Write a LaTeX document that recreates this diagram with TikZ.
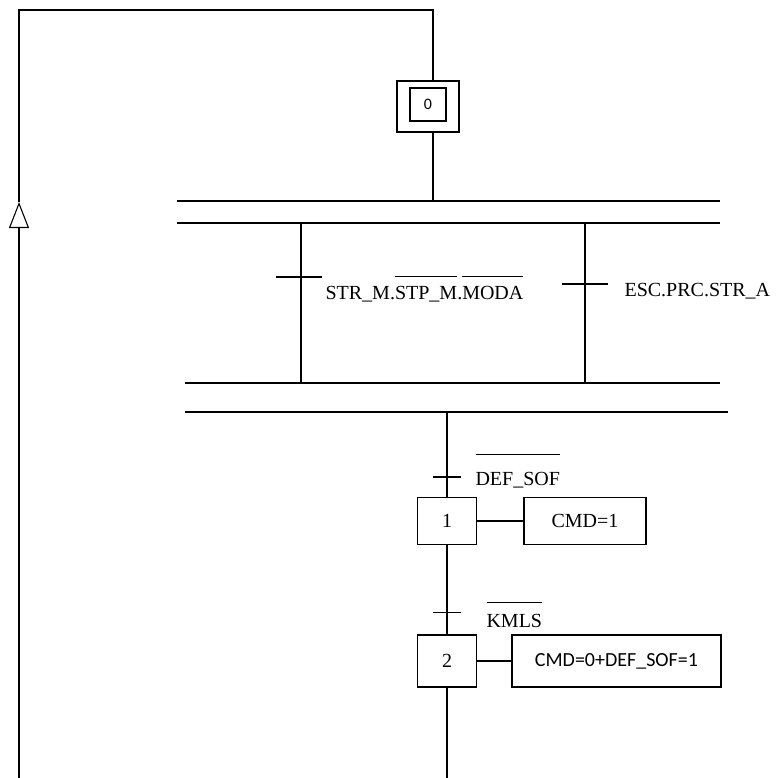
\documentclass[tikz,border=0pt]{standalone}
\usepackage{fontspec}
\setmainfont{Liberation Serif}
\newfontfamily\calibri{Carlito}
\usetikzlibrary{arrows.meta,positioning,calc}
\newlength\barwd
% overbar raised #1 above the baseline
\newcommand\ovbar[2][22pt]{\settowidth\barwd{#2}\makebox[0pt][l]{\rule[#1]{\barwd}{1pt}}#2}

\begin{document}
\begin{tikzpicture}[
    x=1pt, y=-1pt,
    font=\fontsize{20}{22}\selectfont,
    line width=1.1pt,
    stepbox/.style={draw, minimum width=59pt, minimum height=47pt, inner sep=0pt},
    actbox/.style={draw, minimum height=47pt, inner sep=0pt},
    lbl/.style={anchor=base west, inner sep=0pt},
    back/.style={-{Triangle[open, length=26pt, width=20pt]}}
  ]
    \useasboundingbox (0,0) rectangle (776,778);
    % initial step
    \node[draw, minimum width=62pt, minimum height=51pt, inner sep=0pt] (s0) at (428,106.5) {};
    \node[draw, minimum width=36pt, minimum height=33pt, inner sep=0pt,
      font=\calibri\fontsize{16}{18}\selectfont] (s0in) at (428,104.5) {0};
    \coordinate (top) at (433,10);
    \coordinate (corner) at (19,10);
    \coordinate (tip) at (19,202);
    \coordinate (bot) at (19,778);
    \draw[back] (bot) -- (tip);
    \draw (tip) -- (corner) -- (top) -- ([xshift=5pt]s0.north);
    % parallel divergence
    \coordinate (j0) at (433,201);
    \draw ([xshift=5pt]s0.south) -- (j0);
    \draw (177,201) -- (720,201);
    \draw (177,223) -- (720,223);
    \coordinate (b1t) at (301,223);
    \coordinate (b1b) at (301,383);
    \coordinate (b2t) at (585,223);
    \coordinate (b2b) at (585,383);
    \draw (b1t) -- (b1b);
    \draw (b2t) -- (b2b);
    \draw ($(b1t)+(-25,54)$) -- ++(46,0);
    \draw ($(b2t)+(-23,61)$) -- ++(46,0);
    \node[lbl] (c1) at (325,299) {STR\_M.\ovbar{STP\_M}.\ovbar{MODA}};
    \node[lbl] (c2) at (624,296) {ESC.PRC.STR\_A};
    % parallel convergence
    \draw (185,383) -- (720,383);
    \draw (185,412) -- (728,412);
    \coordinate (j1) at (447,412);
    % sequence
    \node[stepbox] (s1) at (447,521) {1};
    \node[actbox, minimum width=122pt] (a1) at (585,521) {CMD=1};
    \node[stepbox, minimum height=52pt] (s2) at (447,661) {2};
    \node[actbox, minimum width=209pt, minimum height=52pt,
      font=\calibri\fontsize{20}{22}\selectfont] (a2) at (616.5,661) {CMD=0+DEF\_SOF=1};
    \coordinate (end) at (447,778);
    \draw (j1) -- (s1.north);
    \draw (s1.south) -- (s2.north);
    \draw (s2.south) -- (end);
    \draw (s1) -- (a1);
    \draw (s2) -- (a2);
    \draw ($(s1.north)+(-14,-20)$) -- ++(28,0);
    \draw ($(s2.north)+(-14,-22)$) -- ++(28,0);
    \node[lbl] (c3) at (475,485) {\ovbar[30pt]{DEF\_SOF}};
    \node[lbl] (c4) at (486,627) {\ovbar[24pt]{KMLS}};
\end{tikzpicture}
\end{document}
